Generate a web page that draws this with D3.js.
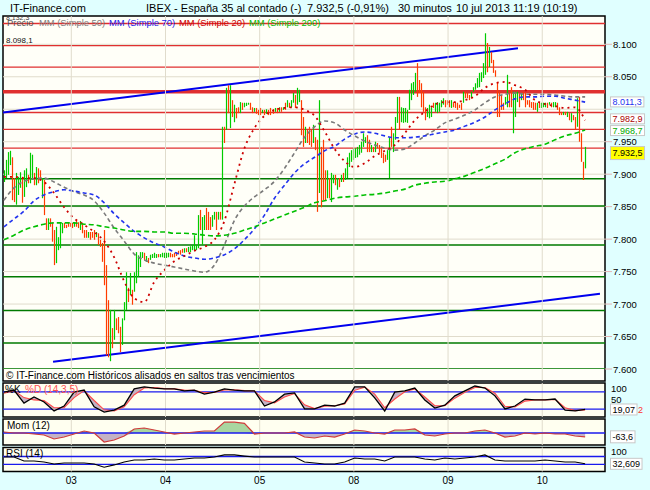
<!DOCTYPE html>
<html><head><meta charset="utf-8">
<script src="https://cdn.jsdelivr.net/npm/d3@7"></script>
<style>
html,body{margin:0;padding:0;background:#e0ffff;}
svg{display:block;font-family:"Liberation Sans",Arial,sans-serif;}
</style></head><body>
<svg id="c" width="650" height="490"></svg>
<script>
// ---------------- DATA ----------------
const dayLabels = ["03","04","05","08","09","10"];
// bars: [high, low, up(1)/down(0)] — 30 min bars, one array per session
const bars02 = [[7906,7888,1],[7922,7894,1],[7934,7899,1],[7936,7914,1],[7926,7860,0],[7894,7857,0],[7902,7853,1],[7896,7868,1],[7903,7879,1],[7896,7856,0],
[7906,7865,1],[7909,7880,1],[7899,7886,0],[7933,7886,1],[7930,7891,1],[7902,7883,0],[7911,7883,1],[7909,7886,0],[7906,7891,0],[7894,7863,1],
[7891,7837,0],[7832,7814,0],[7832,7814,1],[7832,7819,0],[7825,7796,0],[7814,7760,0],[7819,7763,1],[7803,7783,1],[7825,7786,1],[7825,7809,1],
[7825,7817,0],[7822,7817,0],[7825,7819,0],[7825,7819,0]];
const bars03 = [[7825,7817,0],[7826,7819,1],[7830,7819,0],[7826,7817,0],[7828,7814,1],[7825,7809,0],[7814,7802,0],[7814,7802,0],[7811,7802,1],[7811,7799,0],
[7811,7802,0],[7814,7799,0],[7811,7803,1],[7809,7791,0],[7799,7788,0],[7794,7765,0],[7814,7729,0],[7760,7621,0],[7706,7618,0],[7691,7612,1],
[7663,7632,0],[7691,7645,1],[7678,7660,0],[7680,7655,0],[7665,7626,0],[7678,7637,1],[7703,7675,1],[7749,7691,1],[7725,7703,0],[7748,7714,1],
[7722,7699,0],[7749,7719,1],[7780,7732,1],[7775,7742,1],[7780,7757,1],[7780,7771,1],[7779,7768,0],[7774,7765,1],[7771,7763,0],[7776,7768,1],
[7777,7771,1],[7779,7771,1],[7777,7771,1],[7777,7772,0],[7777,7772,1],[7779,7772,1],[7779,7771,1]];
const bars04 = [[7779,7771,1],[7779,7772,1],[7779,7772,0],[7777,7772,0],[7779,7772,0],[7780,7774,0],[7782,7777,0],[7783,7776,0],[7785,7779,0],[7786,7779,1],
[7786,7780,0],[7788,7780,1],[7789,7780,1],[7791,7783,1],[7806,7783,1],[7791,7783,1],[7837,7786,1],[7845,7814,0],[7834,7791,1],[7837,7814,1],
[7848,7814,0],[7842,7814,0],[7834,7814,0],[7837,7819,1],[7842,7830,1],[7842,7814,0],[7842,7830,1],[7842,7830,0],[7973,7830,1],[7973,7948,0],
[8033,7968,1],[8037,7994,0],[8037,7971,1],[8014,7988,0],[8007,7980,1],[8002,7986,0],[8003,7994,0],[8011,7994,1],[8010,7999,0],[8010,8003,1],
[8010,8005,1],[8010,8007,1],[8010,7999,0],[8003,7994,0],[8002,7996,1],[8002,7993,0],[7999,7991,0]];
const bars05 = [[8002,7991,0],[7999,7994,1],[7999,7991,0],[8000,7993,1],[7999,7991,0],[8002,7991,0],[8000,7993,0],[8002,7996,1],[8002,7994,0],[8003,7996,1],
[8003,7996,0],[8003,7999,1],[8010,7999,0],[8014,8003,1],[8010,8002,0],[8014,8003,1],[8025,8010,1],[8022,8002,0],[8033,8007,1],[8030,8011,1],
[8014,7960,0],[7988,7942,0],[7973,7948,1],[7968,7948,0],[7973,7945,0],[7968,7942,0],[7976,7948,1],[7957,7937,0],[7953,7842,0],[8014,7871,1],
[7942,7849,0],[7953,7860,0],[7906,7860,0],[7906,7863,1],[7894,7863,0],[7902,7857,1],[7899,7886,1],[7899,7883,0],[7894,7876,1],[7894,7880,0],
[7899,7888,1],[7902,7888,0],[7909,7891,1],[7926,7894,1],[7933,7911,1],[7937,7919,1],[7940,7922,1]];
const bars08 = [[7940,7925,1],[7942,7926,1],[7945,7930,1],[7950,7933,1],[7963,7942,1],[7957,7948,1],[7960,7934,0],[7953,7934,0],[7945,7934,1],[7942,7934,0],
[7950,7934,1],[7948,7940,0],[7945,7933,0],[7940,7925,0],[7933,7917,0],[7930,7919,0],[7937,7922,1],[7957,7894,1],[7973,7942,0],[7963,7934,1],
[7988,7953,1],[8019,7979,1],[8019,7968,0],[8003,7980,1],[8002,7979,1],[8002,7980,1],[7999,7979,1],[8030,7999,1],[8040,8014,1],[8042,8022,1],
[8056,8027,1],[8071,8019,0],[8045,8025,0],[8040,8003,0],[8027,7996,0],[8003,7983,0],[8002,7988,1],[8007,7986,1],[8003,7988,1],[8010,8002,0],
[8010,7996,1],[8011,7994,1],[8010,7996,1],[8014,8003,1],[8017,8007,1],[8014,8003,0],[8014,8007,0]];
const bars09 = [[8014,8003,0],[8014,8002,1],[8011,8003,0],[8011,8002,0],[8010,7999,0],[8007,8002,0],[8010,7999,0],[8027,8010,1],[8027,8017,0],[8025,8017,0],
[8022,8014,0],[8027,8017,1],[8034,8027,1],[8040,8030,1],[8048,8033,1],[8056,8034,1],[8057,8042,1],[8071,8048,1],[8117,8053,1],[8102,8057,0],
[8096,8065,1],[8088,8071,0],[8076,8056,0],[8060,8050,0],[8042,7988,0],[8027,7988,0],[8022,7999,0],[8010,7999,0],[8019,8007,1],[8053,8003,1],
[8027,8003,0],[8034,8003,0],[8027,7963,1],[8027,7988,1],[8027,8011,1],[8025,8003,0],[8025,8014,1],[8027,8014,0],[8025,8003,0],[8014,8007,0],
[8014,8003,0],[8011,8002,0],[8011,7999,0],[8010,7999,0],[8010,7996,1],[8010,8002,0],[8010,8002,1]];
const bars10 = [[8010,8003,1],[8010,8003,1],[8010,8002,0],[8011,8007,1],[8010,8003,0],[8011,8003,1],[8011,8003,1],[8010,7999,0],[8003,7991,0],[7996,7991,0],
[7996,7991,1],[7996,7991,0],[7996,7988,1],[7994,7983,0],[7994,7980,1],[7991,7983,0],[7988,7968,0],[8017,7973,1],[8019,7950,0],[7963,7919,0],
[7919,7891,0],[7942,7909,1]];
const sessions = [bars02, bars03, bars04, bars05, bars08, bars09, bars10];

// moving averages & indicators, sampled every 5 bars starting at bar slot 13
const ma20 = [7896,7896,7894,7894,7888,7871,7849,7832,7822,7811,7797,7772,7735,7709,7703,7734,7752,7766,7774,7782,7788,7799,7828,7885,7940,7971,7990,7999,8002,8003,7999,7990,7966,7939,7920,7911,7917,7928,7936,7945,7963,7983,7996,8007,8011,8011,8014,8020,8033,8040,8042,8037,8030,8014,8008,8005,8002,8003,7983];
const ma50 = [7860,7879,7889,7893,7894,7888,7880,7873,7868,7859,7840,7817,7797,7777,7768,7763,7760,7757,7754,7751,7749,7760,7791,7829,7851,7865,7876,7889,7909,7933,7957,7973,7982,7979,7968,7959,7951,7945,7940,7937,7939,7948,7959,7968,7979,7985,7991,7999,8010,8019,8023,8025,8023,8023,8023,8022,8020,8019,8019];
const ma70 = [7819,7831,7843,7859,7868,7873,7876,7874,7871,7868,7856,7839,7825,7812,7802,7794,7788,7780,7774,7771,7769,7771,7776,7785,7799,7816,7837,7863,7883,7902,7916,7926,7936,7943,7954,7962,7965,7963,7959,7956,7956,7957,7959,7962,7965,7968,7974,7980,7988,7999,8008,8016,8019,8019,8020,8020,8017,8014,8011];
const ma200 = [7799,7806,7814,7819,7823,7825,7825,7825,7823,7822,7819,7817,7814,7812,7812,7811,7811,7809,7809,7808,7806,7805,7806,7809,7814,7819,7825,7831,7837,7843,7849,7856,7859,7863,7865,7866,7868,7869,7871,7874,7877,7883,7886,7888,7889,7893,7897,7903,7909,7916,7923,7933,7939,7943,7946,7953,7959,7963,7968];
const stochK = [79,86,41,62,45,14,31,79,86,28,10,17,34,90,97,93,90,90,83,86,72,79,90,86,83,83,31,45,72,76,21,21,34,31,41,97,97,59,14,79,83,93,52,24,34,66,83,100,93,66,21,31,55,52,52,55,17,14,19.07];
const stochD = [75,84,60,52,50,25,25,60,84,50,18,14,28,70,93,95,91,90,86,85,77,78,86,87,84,83,50,42,62,74,35,22,30,32,38,85,96,72,25,55,80,90,62,32,32,58,78,95,95,75,30,28,48,52,52,54,25,15,17.72];
const mom = [17,0,0,-17,-33,-100,-67,-17,33,0,-150,-117,-50,67,83,50,17,-17,0,17,33,33,183,180,160,-17,0,0,0,17,-67,-83,-50,-67,-17,50,33,0,-17,50,50,67,-33,-50,-17,0,0,33,50,0,-67,-50,0,-17,0,-17,-17,-50,-63.6];
const rsi = [67,67,47,47,42,32,37,37,37,32,15,27,42,52,52,57,52,52,57,62,62,67,78,78,72,67,67,67,67,67,42,37,32,32,42,62,57,57,47,67,67,67,57,52,62,57,62,67,78,52,47,47,47,47,52,47,42,42,32.609];

// support / resistance levels and trend lines
const redLevels = [8132, 8098.1, 8065, 7995, 7969, 7940];
const mainLevel = 8027;
const greenLevels = [7893, 7851, 7791, 7742, 7690, 7640, 7600];
const upperTrend = [[12.5, 7995], [269.5, 8094]];
const lowerTrend = [[37.5, 7611], [310.4, 7716]];
const priceTicks = [8100, 8050, 7950, 7900, 7850, 7800, 7750, 7700, 7650, 7600];
const gridTicks = [8100, 8050, 8000, 7950, 7900, 7850, 7800, 7750, 7700, 7650, 7600];
const lastClose = 7932.5, lastChangePct = -0.91;
const lastMA = {ma70: 8011.3, ma20: 7982.9, ma200: 7968.7};

// ---------------- CHART ----------------
const svg = d3.select("#c");
const L = 3, R = 605, TOP = 16, PB = 369;
const BARS_PER_DAY = 47;
const x = d3.scaleLinear().domain([47, 329]).range([72.1, 72.1 + 282 * 2.004]);
const y = d3.scaleLinear().domain([7600, 8100]).range([PB, 44.3]);
const loc = d3.formatLocale({decimal: ",", thousands: ".", grouping: [3], currency: ["", ""], minus: "-"});
const f0 = loc.format(",.0f"), f1 = loc.format(",.1f"), f2 = loc.format(",.2f"), f3 = loc.format(",.3f");
const sampleX = j => x(13 + 5 * j);
const sepX = d => x(d * BARS_PER_DAY - 0.4);

// header
const hdr = svg.append("g").attr("font-size", 11).attr("fill", "#000");
hdr.append("text").attr("x", 10).attr("y", 12).text("IT-Finance.com");
hdr.append("text").attr("x", 146).attr("y", 12).text("IBEX - España 35 al contado (-)");
hdr.append("text").attr("x", 307).attr("y", 12).text(f1(lastClose) + " (" + f2(lastChangePct) + "%)");
hdr.append("text").attr("x", 398).attr("y", 12).text("30 minutos");
hdr.append("text").attr("x", 456).attr("y", 12).text("10 jul 2013 11:19 (10:19)");

// main panel
svg.append("rect").attr("x", L).attr("y", TOP).attr("width", R - L).attr("height", 381 - TOP)
  .attr("fill", "#fffff8").attr("stroke", "#000").attr("stroke-width", 1.5);
const defs = svg.append("defs");
defs.append("clipPath").attr("id", "cp").append("rect").attr("x", L).attr("y", TOP).attr("width", R - L).attr("height", PB - TOP);
const main = svg.append("g").attr("clip-path", "url(#cp)");

// grid
main.selectAll(".hg").data(gridTicks).join("line")
  .attr("x1", L).attr("x2", R).attr("y1", d => y(d)).attr("y2", d => y(d))
  .attr("stroke", "#e0dccc").attr("stroke-width", 1);
svg.selectAll(".vg").data(d3.range(1, 7)).join("line")
  .attr("x1", sepX).attr("x2", sepX).attr("y1", TOP).attr("y2", 381)
  .attr("stroke", "#e0dccc").attr("stroke-width", 1);

// legend (under the level lines)
const leg = svg.append("g").attr("font-size", 9.4);
leg.append("text").attr("x", 6).attr("y", 20).attr("font-size", 7).attr("fill", "#444").text(f0(8132.3) + ",3");
leg.append("text").attr("x", 7).attr("y", 26).attr("fill", "#555").text("Precio");
leg.append("text").attr("x", 39).attr("y", 26).attr("fill", "#808080").text("MM (Simple 50)");
leg.append("text").attr("x", 109).attr("y", 26).attr("fill", "#2222ee").text("MM (Simple 70)");
leg.append("text").attr("x", 179).attr("y", 26).attr("fill", "#cc0000").text("MM (Simple 20)");
leg.append("text").attr("x", 249).attr("y", 26).attr("fill", "#00bb00").text("MM (Simple 200)");
svg.append("text").attr("x", 6).attr("y", 43).attr("font-size", 8).attr("fill", "#111").text(f1(8098.1));

// levels
main.selectAll(".rl").data(redLevels).join("line")
  .attr("x1", L).attr("x2", R).attr("y1", d => y(d)).attr("y2", d => y(d))
  .attr("stroke", "#e03030").attr("stroke-width", 1.3);
main.append("line").attr("x1", L).attr("x2", R).attr("y1", y(mainLevel)).attr("y2", y(mainLevel))
  .attr("stroke", "#e03030").attr("stroke-width", 3.5);
main.selectAll(".gl").data(greenLevels).join("line")
  .attr("x1", L).attr("x2", R).attr("y1", d => y(d)).attr("y2", d => y(d))
  .attr("stroke", "#007a00").attr("stroke-width", 1.4);

// trend lines
[upperTrend, lowerTrend].forEach(t => {
  main.append("line").attr("x1", x(t[0][0])).attr("y1", y(t[0][1])).attr("x2", x(t[1][0])).attr("y2", y(t[1][1]))
    .attr("stroke", "#0000ee").attr("stroke-width", 2);
});

// bars
const allBars = [];
sessions.forEach((arr, d) => {
  const start = d * BARS_PER_DAY + (d === 0 ? BARS_PER_DAY - arr.length : 0);
  arr.forEach((b, k) => allBars.push({s: start + k, hi: b[0], lo: b[1], up: b[2]}));
});
main.selectAll(".bar").data(allBars).join("line")
  .attr("x1", d => Math.round(x(d.s)) + 0.5).attr("x2", d => Math.round(x(d.s)) + 0.5)
  .attr("y1", d => y(d.hi)).attr("y2", d => Math.max(y(d.lo), y(d.hi) + 2))
  .attr("stroke", d => d.up ? "#00cc00" : "#ff3c00").attr("stroke-width", 1.2);

// moving averages
const maLine = d3.line().x((d, j) => sampleX(j)).y(d => y(d)).curve(d3.curveMonotoneX);
const maStyles = [
  [ma50, "#7a7a7a", "4,3", 1.6],
  [ma70, "#2233ee", "4,3", 1.6],
  [ma20, "#cc0000", "2,4", 1.8],
  [ma200, "#00c000", "5,3", 1.6]
];
maStyles.forEach(([data, c, dash, w]) => {
  main.append("path").attr("d", maLine(data)).attr("fill", "none")
    .attr("stroke", c).attr("stroke-dasharray", dash).attr("stroke-width", w);
});

// footnote
svg.append("text").attr("x", 6).attr("y", 379).attr("font-size", 10).attr("fill", "#000")
  .text("© IT-Finance.com  Históricos alisados en saltos tras vencimientos");

// right price axis
svg.selectAll(".pt").data(gridTicks).join("line")
  .attr("x1", R).attr("x2", R + 7).attr("y1", d => y(d)).attr("y2", d => y(d))
  .attr("stroke", "#e4b4b4").attr("stroke-width", 1);
svg.selectAll(".pl").data(priceTicks).join("text")
  .attr("x", 613).attr("y", d => y(d) + 3.5).attr("font-size", 9.5).attr("fill", "#000").text(f0);

function valueBox(cy, txt, color, bg, h) {
  const g = svg.append("g");
  const t = g.append("text").attr("x", 612.5).attr("y", cy + 3.2).attr("font-size", 9).attr("fill", color).text(txt);
  const w = t.node().getComputedTextLength();
  g.insert("rect", "text").attr("x", 610.5).attr("y", cy - h / 2).attr("width", w + 4).attr("height", h)
    .attr("fill", bg).attr("stroke", "#c8c8c8").attr("stroke-width", 1);
  return 610.5 + w + 4;
}
valueBox(y(lastMA.ma70), f1(lastMA.ma70), "#2233ee", "#ffffff", 10);
valueBox(y(lastMA.ma20) - 1.5, f1(lastMA.ma20), "#aa0000", "#ffffff", 10);
valueBox(y(lastMA.ma200) + 1, f1(lastMA.ma200), "#00aa00", "#ffffff", 10);
valueBox(y(lastClose), f1(lastClose), "#000", "#ffff00", 13);

// ---------------- INDICATOR PANELS ----------------
const panels = [
  {top: 383, h: 34}, {top: 419, h: 26}, {top: 447.5, h: 24}
];
panels.forEach((p, i) => {
  svg.append("rect").attr("x", L).attr("y", p.top).attr("width", R - L).attr("height", p.h)
    .attr("fill", "#fffff0").attr("stroke", "#000").attr("stroke-width", 1.5);
  defs.append("clipPath").attr("id", "pc" + i).append("rect").attr("x", L).attr("y", p.top).attr("width", R - L).attr("height", p.h);
  svg.selectAll(".pv" + i).data(d3.range(1, 7)).join("line")
    .attr("x1", sepX).attr("x2", sepX).attr("y1", p.top).attr("y2", p.top + p.h)
    .attr("stroke", "#e0dccc").attr("stroke-width", 1);
});
const stochY = d3.scaleLinear().domain([0, 100]).range([415, 386]);
const momY = d3.scaleLinear().domain([-200, 200]).range([445, 421]);
const rsiY = d3.scaleLinear().domain([0, 100]).range([470.2, 450.6]);

// stochastic
const gS = svg.append("g").attr("clip-path", "url(#pc0)");
[20, 80].forEach(v => gS.append("line").attr("x1", L).attr("x2", R).attr("y1", stochY(v)).attr("y2", stochY(v)).attr("stroke", "#1a1aee").attr("stroke-width", 1.3));
gS.append("path").datum(stochK).attr("fill", "#c4b2c4")
  .attr("d", d3.area().x((d, j) => sampleX(j)).y0(d => stochY(d)).y1((d, j) => stochY(stochD[j])));
gS.append("path").attr("d", d3.line().x((d, j) => sampleX(j)).y(d => stochY(d))(stochD))
  .attr("fill", "none").attr("stroke", "#ff4a4a").attr("stroke-width", 1.1);
gS.append("path").attr("d", d3.line().x((d, j) => sampleX(j)).y(d => stochY(d))(stochK))
  .attr("fill", "none").attr("stroke", "#000").attr("stroke-width", 1.3);

// momentum
const gM = svg.append("g").attr("clip-path", "url(#pc1)");
gM.append("path").datum(mom).attr("fill", "#a9d6a0")
  .attr("d", d3.area().x((d, j) => sampleX(j)).y0(momY(0)).y1(d => momY(Math.max(d, 0))));
gM.append("path").datum(mom).attr("fill", "#c4b2c4")
  .attr("d", d3.area().x((d, j) => sampleX(j)).y0(momY(0)).y1(d => momY(Math.min(d, 0))));
gM.append("line").attr("x1", L).attr("x2", R).attr("y1", momY(0)).attr("y2", momY(0)).attr("stroke", "#1a1aee").attr("stroke-width", 1.3);
gM.append("path").attr("d", d3.line().x((d, j) => sampleX(j)).y(d => momY(d))(mom))
  .attr("fill", "none").attr("stroke", "#d03a3a").attr("stroke-width", 1.2);

// RSI
const gR = svg.append("g").attr("clip-path", "url(#pc2)");
[30, 70].forEach(v => gR.append("line").attr("x1", L).attr("x2", R).attr("y1", rsiY(v)).attr("y2", rsiY(v)).attr("stroke", "#1a1aee").attr("stroke-width", 1.3));
gR.append("path").attr("d", d3.line().x((d, j) => sampleX(j)).y(d => rsiY(d))(rsi))
  .attr("fill", "none").attr("stroke", "#000").attr("stroke-width", 1.1);

// indicator titles
const it = svg.append("g").attr("font-size", 10);
it.append("text").attr("x", 5).attr("y", 393).attr("fill", "#000").text("%K");
it.append("text").attr("x", 25).attr("y", 393).attr("fill", "#ff5050").text("%D (14,3,5)");
it.append("text").attr("x", 7).attr("y", 429).attr("fill", "#000").text("Mom (12)");
it.append("text").attr("x", 6).attr("y", 457).attr("fill", "#000").text("RSI (14)");

// indicator right labels
const rl = svg.append("g").attr("font-size", 9.5).attr("fill", "#000");
rl.append("text").attr("x", 611).attr("y", 392).text("100");
rl.append("text").attr("x", 611).attr("y", 403).text("50");
rl.append("text").attr("x", 611).attr("y", 455).text("100");
const kLast = stochK[stochK.length - 1], dLast = stochD[stochD.length - 1];
const kEnd = valueBox(stochY(kLast), f2(kLast).slice(0, 5), "#000", "#ffffff", 11);
// %D value: only its last digit shows beyond the %K box
svg.append("text").attr("x", kEnd + 1).attr("y", stochY(kLast) + 3.2).attr("font-size", 9)
  .attr("fill", "#ff3030").text(f2(dLast).slice(-1));
valueBox(momY(mom[mom.length - 1]), f1(mom[mom.length - 1]), "#000", "#ffffff", 12);
valueBox(rsiY(rsi[rsi.length - 1]), f3(rsi[rsi.length - 1]), "#000", "#ffffff", 11);

// x axis labels
svg.selectAll(".xl").data(dayLabels).join("text")
  .attr("x", (d, i) => sepX(i + 1)).attr("y", 484).attr("text-anchor", "middle")
  .attr("font-size", 10).attr("fill", "#000").text(d => d);
</script>
</body></html>
